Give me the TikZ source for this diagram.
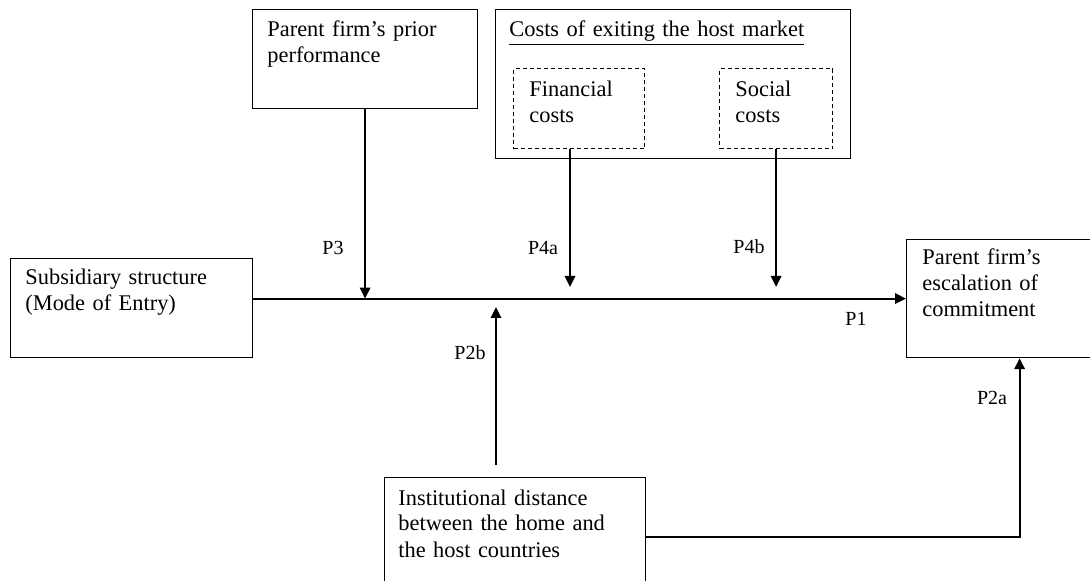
\documentclass[tikz,border=0pt]{standalone}
\usepackage{fontspec}
\setmainfont{Liberation Serif}
\usetikzlibrary{arrows.meta}

\tikzset{
    box/.style={draw, line width=0.6pt, anchor=north west, inner sep=0pt},
    dbox/.style={box, dash pattern=on 2pt off 1.5pt},
    txt/.style={anchor=base west, align=left, inner sep=0pt, text width=160pt, font=\fontsize{11.2}{13}\selectfont},
    plabel/.style={inner sep=0pt, font=\fontsize{10}{12}\selectfont},
    arr/.style={line width=1pt, -{Triangle[length=5.5pt,width=5.2pt]}}
}

\begin{document}
\begin{tikzpicture}[x=0.5pt, y=-0.5pt]
    \useasboundingbox (0,0) rectangle (1090,581);
    \clip (0,0) rectangle (1090,581);
    % boxes
    \node[box, minimum width=121pt, minimum height=49.5pt] (subs) at (10,258) {};
    \node[box, minimum width=112.5pt, minimum height=49.5pt] (prior) at (252,9) {};
    \node[box, minimum width=177.5pt, minimum height=74.5pt] (costs) at (495,9) {};
    \node[dbox, minimum width=65.5pt, minimum height=40pt] (fin) at (513,68) {};
    \node[dbox, minimum width=56.5pt, minimum height=40pt] (soc) at (719,68) {};
    \node[box, minimum width=113pt, minimum height=59pt] (esc) at (906,239) {};
    \node[box, minimum width=130.5pt, minimum height=59pt] (inst) at (384,477) {};
    % texts
    \node[txt] (subs text) at ([shift={(15,27)}]subs.north west) {Subsidiary structure\\(Mode of Entry)};
    \node[txt] (prior text) at ([shift={(15,28)}]prior.north west) {Parent firm's prior\\performance};
    \node[txt] (costs text) at ([shift={(14,28)}]costs.north west) {\underline{Costs of exiting the host market}};
    \node[txt] (fin text) at ([shift={(16,29)}]fin.north west) {Financial\\costs};
    \node[txt] (soc text) at ([shift={(16,29)}]soc.north west) {Social\\costs};
    \node[txt] (esc text) at ([shift={(16,26)}]esc.north west) {Parent firm's\\escalation of\\commitment};
    \node[txt] (inst text) at ([shift={(14,28)}]inst.north west) {Institutional distance\\between the home and\\the host countries};
    % arrows
    \coordinate (p4a) at (570,287);
    \coordinate (p4b) at (775,287);
    \coordinate (p2b top) at (496,307);
    \coordinate (p2b bot) at (496,465);
    \draw[arr] (subs.east |- esc.west) -- (esc.west);
    \draw[arr] (prior.south) -- (prior.south |- esc.west);
    \draw[arr] (p4a |- fin.south) -- (p4a);
    \draw[arr] (soc.south) -- (soc.south |- p4b);
    \draw[arr] (p2b bot) -- (p2b top);
    \draw[arr] (inst.east) -| (esc.south);
    % labels
    \node[plabel] (lp3) at (333,248) {P3};
    \node[plabel] (lp4a) at (543,248) {P4a};
    \node[plabel] (lp4b) at (749,247) {P4b};
    \node[plabel] (lp1) at (856,319) {P1};
    \node[plabel] (lp2b) at (470,353) {P2b};
    \node[plabel] (lp2a) at (992,398) {P2a};
\end{tikzpicture}
\end{document}
